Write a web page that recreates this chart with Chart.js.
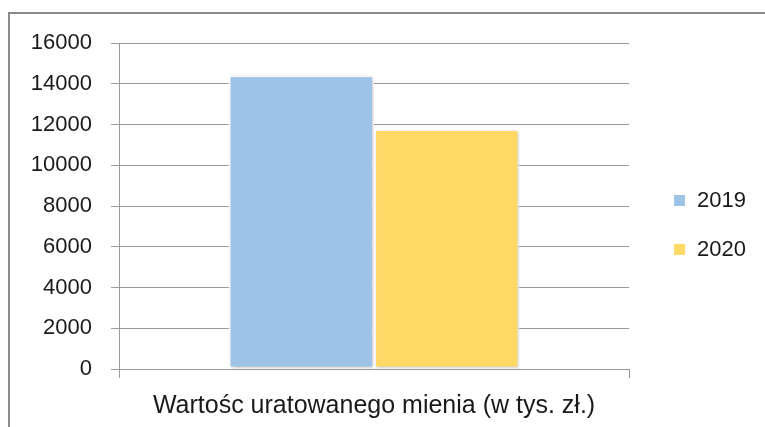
<!DOCTYPE html>
<html>
<head>
<meta charset="utf-8">
<script src="https://cdn.jsdelivr.net/npm/chart.js@4"></script>
<style>
  html, body { margin: 0; padding: 0; background: #fff; overflow: hidden; }
  #wrap { position: relative; width: 765px; height: 427px; }
  #frame { position: absolute; left: 8px; top: 12px; width: 900px; height: 600px; border: 2px solid #8a8a8a; box-sizing: border-box; }
  canvas { position: absolute; left: 0; top: 0; }
</style>
</head>
<body>
<div id="wrap">
  <div id="frame"></div>
  <canvas id="chart" width="765" height="427"></canvas>
</div>
<script>
// kategorie i serie
const categories = ["Wartośc uratowanego mienia (w tys. zł.)"];
const years = ["2019", "2020"];
const values2019 = [14420];
const values2020 = [11780];
const yTicks = [0, 2000, 4000, 6000, 8000, 10000, 12000, 14000, 16000];

const colors = ['#9DC3E6', '#FFD966'];
const gridColor = '#9a9a9a';
const textColor = '#1a1a1a';

// lekki cień pod słupkami
const barShadow = {
    id: 'barShadow',
    beforeDatasetsDraw(chart) {
        const c = chart.ctx;
        c.save();
        c.shadowColor = 'rgba(0,0,0,0.22)';
        c.shadowBlur = 4;
        c.shadowOffsetX = 1;
        c.shadowOffsetY = 1;
    },
    afterDatasetsDraw(chart) { chart.ctx.restore(); }
};

// przesunięcie legendy od obszaru wykresu
const legendShift = {
    id: 'legendShift',
    afterLayout(chart) {
        const lg = chart.legend;
        if (!lg) return;
        lg.left += 17; lg.right += 17;
        lg.top -= 10; lg.bottom -= 10;
    }
};

new Chart(document.getElementById('chart'), {
    type: 'bar',
    data: {
        labels: categories,
        datasets: [
            { label: years[0], data: values2019, backgroundColor: colors[0], borderColor: '#fff', borderWidth: 2, borderSkipped: false },
            { label: years[1], data: values2020, backgroundColor: colors[1], borderColor: '#fff', borderWidth: 2, borderSkipped: false }
        ]
    },
    plugins: [barShadow, legendShift],
    options: {
        responsive: false,
        animation: false,
        layout: { padding: { left: 0, top: 43, right: 26, bottom: 0 } },
        datasets: { bar: { barPercentage: 1, categoryPercentage: 0.57 } },
        scales: {
            x: {
                grid: { display: true, drawOnChartArea: false, drawTicks: true, tickLength: 9, color: gridColor, offset: true },
                border: { display: true, color: gridColor },
                ticks: { color: textColor, font: { family: 'Liberation Sans', size: 25 }, padding: 13 },
                afterFit(s) { s.height = 58; }
            },
            y: {
                min: 0, max: 16000,
                afterBuildTicks(s) { s.ticks = yTicks.map(v => ({ value: v })); },
                grid: { color: gridColor, tickLength: 8 },
                border: { display: true, color: gridColor },
                ticks: { color: textColor, font: { family: 'Liberation Sans', size: 22 }, padding: 19, callback: v => String(v) },
                afterFit(s) { s.width = 119; }
            }
        },
        plugins: {
            legend: {
                position: 'right',
                labels: { boxWidth: 13, boxHeight: 13, padding: 27, color: textColor, font: { family: 'Liberation Sans', size: 22 } }
            },
            tooltip: { enabled: false }
        }
    }
});
</script>
</body>
</html>
